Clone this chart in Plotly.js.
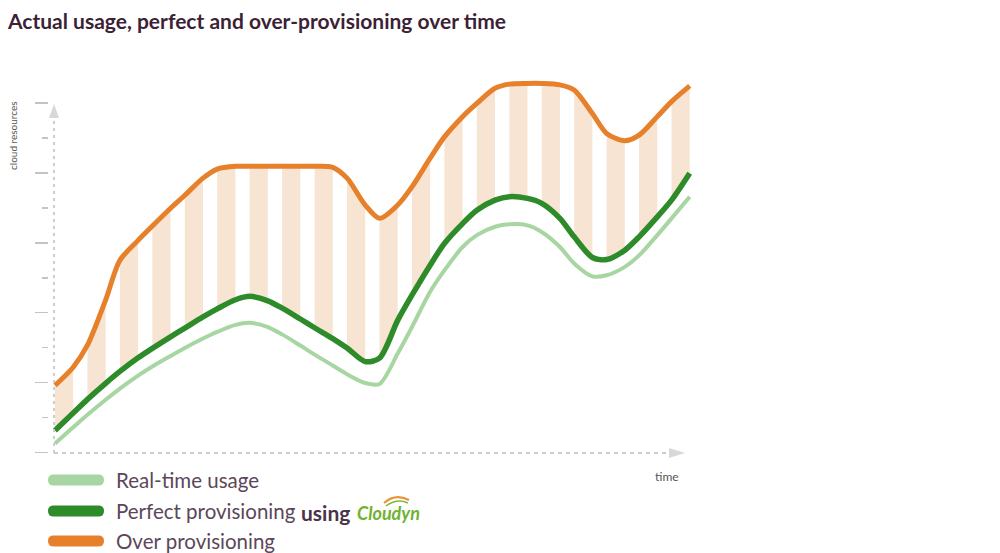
<!DOCTYPE html>
<html><head><meta charset="utf-8">
<script src="https://cdn.plot.ly/plotly-3.0.1.min.js"></script>
<style>html,body{margin:0;padding:0;background:#fff}</style>
</head><body><div id="chart" style="width:1000px;height:553px"></div>
<script>
// Time samples (stripe edges: each stripe spans [k, k+0.56])
const time = [0,0.56, 1,1.56, 2,2.56, 3,3.56, 4,4.56, 5,5.56, 6,6.56, 7,7.56, 8,8.56, 9,9.56,
              10,10.56, 11,11.56, 12,12.56, 13,13.56, 14,14.56, 15,15.56, 16,16.56, 17,17.56, 18,18.56, 19,19.56];
// Cloud resources
const realTimeUsage = [0.26,0.72, 1.08,1.51, 1.83,2.20, 2.46,2.76, 2.99,3.26, 3.45,3.65, 3.71,3.59, 3.38,3.06,
                       2.80,2.49, 2.24,1.99, 1.96,2.83, 3.59,4.60, 5.21,5.88, 6.22,6.46, 6.53,6.50, 6.31,5.88,
                       5.41,5.04, 5.07,5.31, 5.64,6.22, 6.70,7.32];
const perfectProvisioning = [0.63,1.13, 1.52,1.98, 2.32,2.71, 2.98,3.31, 3.56,3.88, 4.11,4.37, 4.47,4.34, 4.13,3.82,
                             3.57,3.26, 2.99,2.60, 2.70,3.78, 4.50,5.36, 5.98,6.55, 6.93,7.22, 7.32,7.27, 7.13,6.70,
                             6.17,5.58, 5.52,5.79, 6.17,6.74, 7.22,7.99];
const overProvisioning = [1.92,2.44, 3.07,4.36, 5.50,6.07, 6.48,6.99, 7.36,7.85, 8.11,8.19, 8.19,8.19, 8.19,8.19,
                          8.19,8.16, 7.85,7.08, 6.70,7.08, 7.60,8.42, 9.03,9.61, 9.99,10.42, 10.54,10.56, 10.56,10.52,
                          10.37,9.70, 9.13,8.92, 9.08,9.61, 10.04,10.49];
const seriesNames = ['Real-time usage', 'Perfect provisioning', 'Over provisioning'];
const chartTitle = 'Actual usage, perfect and over-provisioning over time';
const yTitle = 'cloud resources';
const xTitle = 'time';

const C_LIGHT = '#a8d6a2', C_DARK = '#2e8b2a', C_ORANGE = '#e7802a', C_PEACH = '#f7e4d2';

// stripes between perfect provisioning and over provisioning
const sx = [], sy = [];
for (let k = 0; k + 1 < time.length; k += 2) {
  sx.push(time[k], time[k+1], time[k+1], time[k], null);
  sy.push(overProvisioning[k], overProvisioning[k+1], perfectProvisioning[k+1], perfectProvisioning[k], null);
}

const traces = [
  {x: sx, y: sy, mode: 'none', fill: 'toself', fillcolor: C_PEACH, hoverinfo: 'skip', showlegend: false, connectgaps: false},
  {x: time, y: realTimeUsage, name: seriesNames[0], mode: 'lines', line: {color: C_LIGHT, width: 4, shape: 'spline', smoothing: 0.8}},
  {x: time, y: perfectProvisioning, name: seriesNames[1], mode: 'lines', line: {color: C_DARK, width: 5.5, shape: 'spline', smoothing: 0.8}},
  {x: time, y: overProvisioning, name: seriesNames[2], mode: 'lines', line: {color: C_ORANGE, width: 5, shape: 'spline', smoothing: 0.8}}
];

// pixel -> paper helpers for decorations
const PL = 49, PR = 700, PT = 72, PB = 463;
const px = v => (v - PL) / (PR - PL);
const py = v => (PB - v) / (PB - PT);

function roundBar(x0, x1, yc, h) {
  const r = h / 2;
  const P = (a, b) => px(a) + ',' + py(b);
  return 'M' + P(x0 + r, yc - r) + ' L' + P(x1 - r, yc - r) + ' Q' + P(x1, yc - r) + ' ' + P(x1, yc) +
         ' Q' + P(x1, yc + r) + ' ' + P(x1 - r, yc + r) + ' L' + P(x0 + r, yc + r) +
         ' Q' + P(x0, yc + r) + ' ' + P(x0, yc) + ' Q' + P(x0, yc - r) + ' ' + P(x0 + r, yc - r) + ' Z';
}
const tri = pts => 'M' + pts.map(p => px(p[0]) + ',' + py(p[1])).join(' L') + ' Z';

const GRAY = '#cdcdcd';
const legendY = [480, 511, 541];
const legendColors = [C_LIGHT, C_DARK, C_ORANGE];
const shapes = [
  {type: 'line', xref: 'paper', yref: 'paper', x0: px(54), x1: px(54), y0: py(453), y1: py(112), line: {color: GRAY, width: 2, dash: '3px,4px'}},
  {type: 'line', xref: 'paper', yref: 'paper', x0: px(54), x1: px(668), y0: py(453), y1: py(453), line: {color: GRAY, width: 2, dash: '4px,4px'}},
  {type: 'path', xref: 'paper', yref: 'paper', path: tri([[54, 104], [49, 118], [59, 118]]), fillcolor: '#d8d8d8', line: {width: 0}},
  {type: 'path', xref: 'paper', yref: 'paper', path: tri([[685, 453], [669, 448], [669, 458]]), fillcolor: '#d8d8d8', line: {width: 0}},
  // Cloudyn swoosh
  {type: 'path', xref: 'paper', yref: 'paper', path: 'M' + px(384) + ',' + py(503) + ' Q' + px(395) + ',' + py(493) + ' ' + px(409) + ',' + py(500), line: {color: '#e9923a', width: 2}},
  {type: 'path', xref: 'paper', yref: 'paper', path: 'M' + px(386) + ',' + py(506) + ' Q' + px(397) + ',' + py(498) + ' ' + px(408) + ',' + py(503), line: {color: '#7dbb34', width: 1.5}}
];
legendY.forEach((y, i) => shapes.push({type: 'path', xref: 'paper', yref: 'paper', path: roundBar(48, 104, y, 11), fillcolor: legendColors[i], line: {width: 0}}));

const TXT = '#5c475a';
const LFONT = 'Lato, "Open Sans", sans-serif';
const annotations = [
  {text: yTitle, xref: 'paper', yref: 'paper', x: px(13), y: py(136), textangle: -90, showarrow: false, xanchor: 'center', yanchor: 'middle', font: {family: LFONT, size: 10, color: '#555'}},
  {text: xTitle, xref: 'paper', yref: 'paper', x: px(667), y: py(476), showarrow: false, xanchor: 'center', yanchor: 'middle', font: {family: LFONT, size: 12, color: '#555'}},
  {text: '<b>using</b>', xref: 'paper', yref: 'paper', x: px(299), y: py(512), showarrow: false, xanchor: 'left', yanchor: 'middle', font: {family: LFONT, size: 21, color: '#4a3447'}},
  {text: '<b><i>Cloudyn</i></b>', xref: 'paper', yref: 'paper', x: px(355), y: py(513), showarrow: false, xanchor: 'left', yanchor: 'middle', font: {family: LFONT, size: 18, color: '#6fb22f'}}
];
legendY.forEach((y, i) => annotations.push({text: seriesNames[i], xref: 'paper', yref: 'paper', x: px(114), y: py(y), showarrow: false, xanchor: 'left', yanchor: 'middle', font: {family: LFONT, size: 20.5, color: TXT}}));

const layout = {
  width: 1000, height: 553, autosize: false,
  margin: {l: PL, r: 1000 - PR, t: PT, b: 553 - PB, pad: 0},
  paper_bgcolor: '#ffffff', plot_bgcolor: 'rgba(0,0,0,0)',
  showlegend: false,
  title: {text: '<b>' + chartTitle + '</b>', x: 0.008, xref: 'container', xanchor: 'left', y: 1 - 22 / 553, yref: 'container', yanchor: 'middle',
          font: {family: LFONT, size: 21, color: '#3d1f36'}},
  xaxis: {range: [-0.185, 19.877], showgrid: false, zeroline: false, showline: false, showticklabels: false, ticks: ''},
  yaxis: {range: [-0.30, 10.887], showgrid: false, zeroline: false, showline: false, showticklabels: false,
          tickmode: 'linear', tick0: 0, dtick: 2, ticks: 'outside', ticklen: 13, tickwidth: 1.5, tickcolor: '#c4c4c4',
          minor: {ticks: 'outside', dtick: 1, tick0: 0, ticklen: 6, tickwidth: 1.5, tickcolor: '#c4c4c4', showgrid: false}},
  shapes: shapes,
  annotations: annotations
};

Plotly.newPlot('chart', traces, layout, {displayModeBar: false, staticPlot: true});
</script></body></html>
